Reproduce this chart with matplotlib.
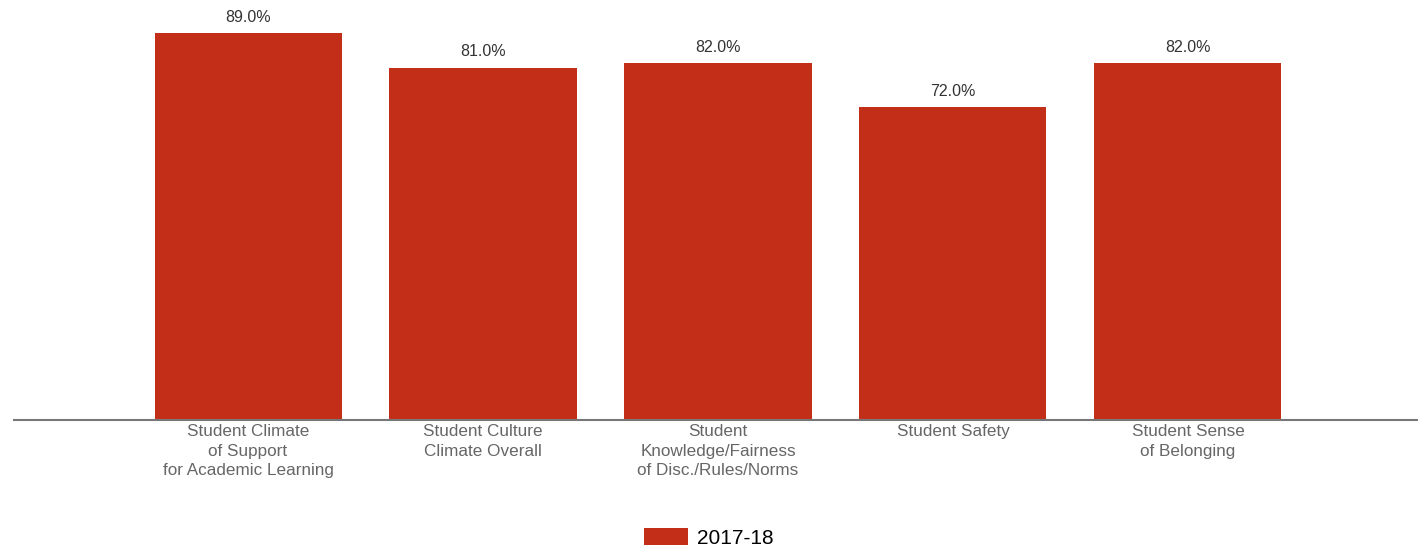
import matplotlib.pyplot as plt

plt.rcParams['font.family'] = ['Liberation Sans', 'DejaVu Sans']

categories = ['Student Climate\nof Support\nfor Academic Learning',
              'Student Culture\nClimate Overall',
              'Student\nKnowledge/Fairness\nof Disc./Rules/Norms',
              'Student Safety',
              'Student Sense\nof Belonging']
values = [89.0, 81.0, 82.0, 72.0, 82.0]
series_name = '2017-18'

bar_color = '#C22E18'

fig = plt.figure(figsize=(14.18, 5.46), dpi=100)
ax = fig.add_axes([14 / 1418, 126 / 546, 1404 / 1418, 420 / 546])

xs = list(range(len(categories)))
bars = ax.bar(xs, values, width=0.796, color=bar_color, label=series_name)

for x, v in zip(xs, values):
    ax.annotate(f'{v:.1f}%', (x, v), xytext=(0, 6), textcoords='offset points',
                ha='center', va='bottom', fontsize=11.5, color='#333333')

ax.set_xlim(-0.996, 4.979)
ax.set_ylim(0, 96.6)
ax.set_xticks(xs)
ax.set_xticklabels(categories, fontsize=12.3, color='#666666', linespacing=1.37)
ax.tick_params(axis='x', length=0, pad=3)
ax.set_yticks([])
for side in ['top', 'right', 'left']:
    ax.spines[side].set_visible(False)
ax.spines['bottom'].set_color('#777777')
ax.spines['bottom'].set_linewidth(1.5)

fig.legend(handles=[bars], labels=[series_name], loc='center',
           bbox_to_anchor=(0.5, 0.015), frameon=False, fontsize=15,
           handlelength=2.1, handleheight=0.9, handletextpad=0.45)

fig.savefig('out.png', dpi=100)
